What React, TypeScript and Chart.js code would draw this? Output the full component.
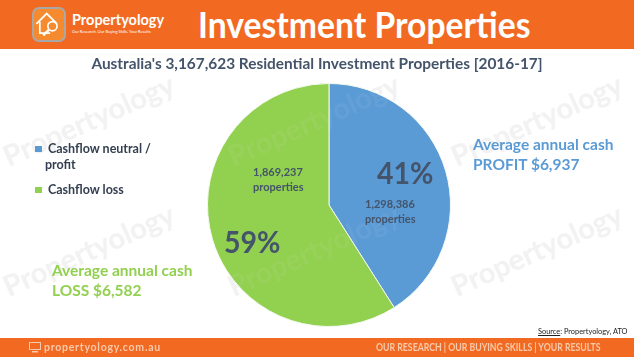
import React, { useEffect, useRef } from "react";
import { Chart, registerables } from "chart.js";

Chart.register(...registerables);

const categories = ["Cashflow neutral / profit", "Cashflow loss"];
const properties = [1298386, 1869237];
const percentLabels = ["41%", "59%"];
const propertyLabels = ["1,298,386", "1,869,237"];
const colors = ["#5B9BD5", "#92D050"];
const chartTitle = "Australia's 3,167,623 Residential Investment Properties [2016-17]";
const headline = "Investment Properties";
const watermarks: [number, number][] = [
  [10, 170], [235, 170], [458, 170], [10, 300], [235, 300], [458, 300],
];

const abs = (left: number, top: number, extra: React.CSSProperties = {}): React.CSSProperties => ({
  position: "absolute", left, top, whiteSpace: "nowrap", ...extra,
});

const mark = (x: number, y: number, color: string, key: string) => (
  <div key={key} style={abs(x, y - 29, { font: "bold 29px/29px Lato, sans-serif", color, transform: "rotate(-24deg)", transformOrigin: "0 100%" })}>Propertyology</div>
);

export default function App() {
  const ref = useRef<HTMLCanvasElement>(null);
  useEffect(() => {
    const chart = new Chart(ref.current!, {
      type: "pie",
      data: {
        labels: categories,
        datasets: [{ data: properties, backgroundColor: colors, borderWidth: 1, borderColor: "#F4F8EE" }],
      },
      options: {
        animation: false,
        responsive: false,
        layout: { padding: { left: 207, right: 183, top: 83, bottom: 30 } },
        plugins: { legend: { display: false }, tooltip: { enabled: false } },
      },
    });
    return () => chart.destroy();
  }, []);

  return (
    <div style={{ position: "fixed", left: 0, top: 0, width: 634, height: 357, overflow: "hidden", background: "#fff", fontFamily: "Lato, sans-serif" }}>
      {watermarks.map(([x, y], i) => mark(x, y, "#F2F2F2", "a" + i))}
      <canvas ref={ref} width={634} height={357} style={{ position: "absolute", left: 0, top: 0 }} />
      {watermarks.map(([x, y], i) => mark(x, y, "rgba(255,255,255,0.06)", "b" + i))}

      <div style={abs(0, 0, { width: 634, height: 49, background: "#F26A21" })} />
      <div style={abs(32, 7, { width: 34, height: 35, boxSizing: "border-box", border: "2px solid #A8A8A8", borderRadius: 7, background: "#F58A2E" })}>
        <svg width="30" height="31" viewBox="0 0 26 27" style={{ display: "block" }}>
          <path d="M2 13 L11 4 L20 13 M5 11 V21 H14" fill="none" stroke="#fff" strokeWidth="1.5" />
          <circle cx="16" cy="15" r="4" fill="none" stroke="#fff" strokeWidth="1.5" />
          <path d="M13 18 L8 23" stroke="#fff" strokeWidth="2" />
        </svg>
      </div>
      <div style={abs(72, 11, { font: "bold 14.5px Lato, sans-serif", color: "#fff" })}>Propertyology</div>
      <div style={abs(72, 29, { font: "4px Lato, sans-serif", color: "#fff" })}>Our Research. Our Buying Skills. Your Results</div>
      <div style={abs(198, 2, { font: "bold 36px Lato, sans-serif", color: "#fff", transform: "scaleX(0.935)", transformOrigin: "0 0" })}>{headline}</div>

      <div style={abs(0, 54, { width: 634, textAlign: "center", font: "bold 15.4px Lato, sans-serif", color: "#44546A" })}>{chartTitle}</div>

      <div style={abs(35, 146, { width: 7, height: 6, background: colors[0] })} />
      <div style={abs(48, 141, { font: "bold 12.5px/16px Lato, sans-serif", color: "#333F50" })}>Cashflow neutral /</div>
      <div style={abs(45, 157, { font: "bold 12.5px/16px Lato, sans-serif", color: "#333F50" })}>profit</div>
      <div style={abs(35, 187, { width: 7, height: 6, background: colors[1] })} />
      <div style={abs(48, 182, { font: "bold 12.5px/16px Lato, sans-serif", color: "#333F50" })}>{categories[1]}</div>

      <div style={abs(473, 134, { font: "bold 15.5px/20px Lato, sans-serif", color: colors[0] })}>Average annual cash<br />PROFIT $6,937</div>
      <div style={abs(52, 260, { font: "bold 15.5px/20px Lato, sans-serif", color: colors[1] })}>Average annual cash<br />LOSS $6,582</div>

      <div style={abs(377, 153, { font: "bold 31px Lato, sans-serif", color: "#44546A", transform: "scaleX(0.92)", transformOrigin: "0 0" })}>{percentLabels[0]}</div>
      <div style={abs(224, 222, { font: "bold 31px Lato, sans-serif", color: "#44546A", transform: "scaleX(0.92)", transformOrigin: "0 0" })}>{percentLabels[1]}</div>
      <div style={abs(365, 197, { font: "bold 11px/14.5px Lato, sans-serif", color: "#44546A" })}>{propertyLabels[0]}<br />properties</div>
      <div style={abs(253, 165, { font: "bold 11px/14.5px Lato, sans-serif", color: "#44546A" })}>{propertyLabels[1]}<br />properties</div>

      <div style={abs(538, 327, { font: "7.4px Lato, sans-serif", color: "#222" })}><u>Source</u>: Propertyology, ATO</div>

      <div style={abs(0, 338, { width: 634, height: 19, background: "#F26A21" })} />
      <svg width="12" height="11" style={{ position: "absolute", left: 29, top: 342 }}>
        <rect x="0.5" y="0.5" width="11" height="7" fill="none" stroke="#F8C9AB" />
        <rect x="3" y="9" width="6" height="1.5" fill="#F8C9AB" />
      </svg>
      <div style={abs(44, 341, { font: "bold 10.5px Lato, sans-serif", letterSpacing: 0.75, color: "#F8C9AB" })}>propertyology.com.au</div>
      <div style={abs(376, 341, { font: "bold 10.5px Lato, sans-serif", color: "#F8C9AB", transform: "scaleX(0.83)", transformOrigin: "0 0" })}>OUR RESEARCH | OUR BUYING SKILLS | YOUR RESULTS</div>
    </div>
  );
}
